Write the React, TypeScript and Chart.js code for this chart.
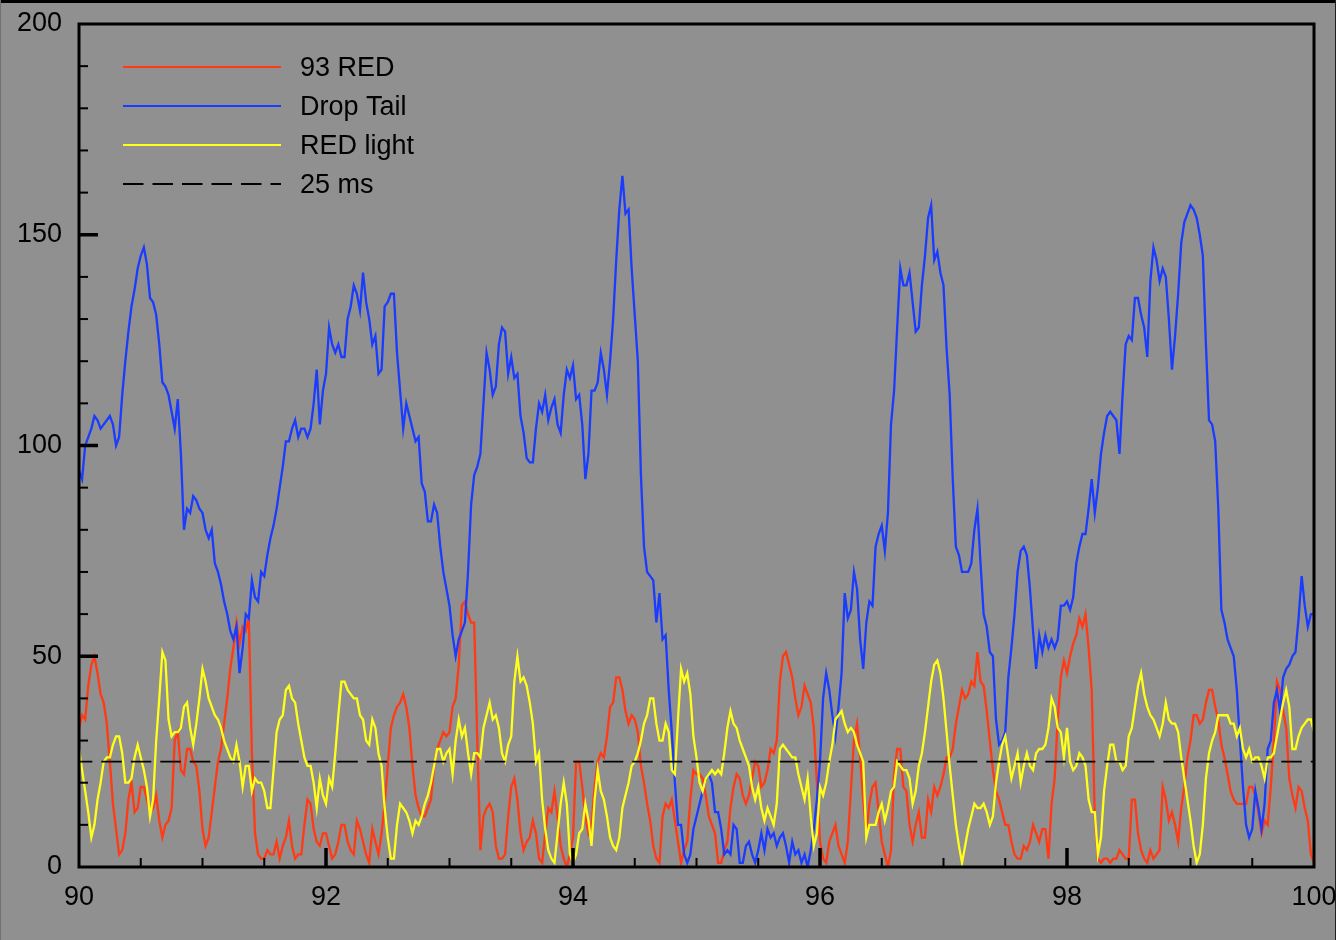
import React, { useEffect, useRef } from "react";
import { Chart, registerables } from "chart.js";

Chart.register(...registerables);

// Queueing delay traces (ms) sampled every 0.025 s from t = 90 s to t = 100 s,
// one row per second of simulated time
const timeStart = 90;
const timeStep = 0.025;

const red93: number[] = [
  33, 36, 35, 43, 48, 50, 46, 41, 39, 34, 25, 15, 9, 3, 4, 8, 16, 20, 13, 14, 19, 19, 16, 13, 14, 17, 11, 7, 10, 11, 14, 30, 32, 23, 22, 28, 28, 25, 24, 18,
  9, 5, 7, 13, 19, 25, 28, 34, 40, 47, 52, 58, 53, 57, 56, 59, 27, 8, 3, 2, 2, 4, 3, 3, 6, 2, 5, 7, 11, 5, 2, 3, 3, 10, 16, 15, 9, 6, 5, 8,
  8, 5, 2, 3, 6, 10, 10, 6, 4, 3, 11, 9, 6, 3, 1, 9, 6, 3, 8, 15, 24, 33, 36, 38, 39, 41, 38, 33, 24, 17, 14, 12, 12, 14, 16, 24, 28, 30, 32, 31,
  32, 38, 40, 48, 62, 63, 60, 58, 58, 30, 4, 12, 14, 15, 13, 5, 2, 2, 3, 12, 19, 21, 16, 8, 4, 6, 7, 11, 8, 2, 1, 8, 14, 13, 18, 12, 5, 2, 0, 3,
  7, 25, 25, 19, 12, 8, 10, 19, 25, 27, 26, 31, 38, 39, 45, 45, 42, 37, 34, 36, 35, 32, 24, 20, 15, 11, 5, 2, 1, 12, 15, 14, 16, 11, 6, 1, 4, 6, 16, 23,
  22, 22, 21, 17, 12, 10, 8, 1, 1, 4, 6, 14, 19, 22, 21, 17, 15, 17, 21, 25, 24, 19, 20, 23, 28, 27, 30, 44, 50, 51, 48, 45, 40, 36, 38, 43, 41, 39, 33, 20,
  6, 2, 1, 6, 8, 10, 5, 3, 1, 6, 18, 30, 34, 26, 16, 8, 15, 19, 20, 13, 6, 3, 0, 4, 22, 28, 28, 19, 18, 10, 6, 10, 13, 7, 7, 16, 13, 19, 17, 19,
  22, 26, 26, 28, 34, 38, 42, 40, 41, 44, 43, 51, 44, 43, 37, 30, 23, 18, 16, 13, 10, 10, 6, 3, 2, 2, 5, 4, 6, 10, 8, 6, 9, 9, 2, 15, 21, 35, 45, 49,
  46, 50, 53, 55, 59, 57, 60, 52, 42, 12, 2, 1, 2, 2, 1, 2, 2, 4, 3, 2, 2, 16, 16, 8, 4, 2, 1, 4, 2, 3, 4, 19, 16, 11, 13, 10, 6, 14, 19, 26,
  30, 36, 36, 34, 35, 39, 42, 42, 38, 35, 29, 26, 22, 18, 16, 15, 15, 15, 15, 19, 19, 17, 13, 8, 11, 10, 19, 30, 44, 42, 37, 33, 21, 17, 14, 19, 18, 14, 11, 3,
  1,
];

const dropTail: number[] = [
  94, 92, 100, 102, 104, 107, 106, 104, 105, 106, 107, 105, 100, 102, 112, 120, 127, 133, 137, 142, 145, 147, 143, 135, 134, 131, 124, 115, 114, 112, 108, 104, 111, 98, 80, 85, 84, 88, 87, 85,
  84, 80, 78, 80, 72, 70, 67, 63, 60, 56, 54, 57, 46, 52, 60, 59, 68, 64, 63, 70, 69, 74, 78, 81, 85, 90, 95, 101, 101, 104, 106, 102, 104, 104, 102, 104, 110, 118, 105, 113,
  117, 128, 124, 122, 124, 121, 121, 130, 133, 138, 136, 132, 141, 134, 130, 124, 126, 117, 118, 133, 134, 136, 136, 122, 113, 104, 110, 107, 104, 101, 102, 91, 89, 82, 82, 86, 84, 76, 70, 66,
  62, 55, 50, 54, 56, 58, 70, 86, 93, 95, 98, 110, 122, 118, 112, 114, 124, 128, 127, 117, 121, 116, 117, 107, 103, 97, 96, 96, 104, 110, 108, 112, 106, 109, 111, 105, 103, 112, 118, 116,
  119, 111, 112, 105, 92, 98, 113, 113, 115, 122, 118, 112, 120, 130, 144, 156, 164, 155, 156, 142, 131, 120, 93, 76, 70, 69, 68, 58, 65, 54, 55, 42, 32, 20, 10, 10, 3, 1, 3, 9,
  12, 15, 18, 21, 22, 20, 13, 13, 9, 3, 4, 3, 10, 9, 1, 1, 5, 6, 3, 1, 4, 8, 4, 9, 7, 8, 5, 7, 8, 5, 1, 6, 3, 4, 1, 3, 0, 4, 9, 16,
  25, 40, 46, 42, 36, 31, 38, 46, 65, 59, 61, 70, 66, 54, 47, 58, 63, 62, 76, 79, 81, 75, 84, 105, 113, 128, 142, 138, 138, 141, 134, 127, 128, 138, 145, 154, 157, 144, 146, 141,
  138, 123, 112, 92, 76, 74, 70, 70, 70, 72, 80, 85, 72, 60, 57, 51, 50, 35, 29, 30, 32, 45, 52, 60, 70, 75, 76, 74, 66, 56, 47, 55, 51, 55, 52, 54, 52, 54, 62, 62,
  63, 61, 64, 72, 76, 79, 79, 85, 92, 84, 90, 98, 103, 107, 108, 107, 106, 98, 112, 124, 126, 125, 135, 135, 131, 128, 121, 139, 147, 144, 139, 142, 140, 130, 118, 126, 136, 148, 153, 155,
  157, 156, 154, 150, 145, 124, 106, 105, 101, 85, 61, 58, 54, 52, 50, 42, 30, 19, 10, 7, 9, 18, 14, 9, 15, 28, 30, 39, 42, 37, 45, 47, 48, 50, 51, 59, 69, 62, 57, 60,
  60,
];

const redLight: number[] = [
  28, 23, 18, 13, 7, 10, 16, 20, 25, 26, 26, 29, 31, 31, 27, 20, 20, 21, 26, 29, 26, 23, 19, 12, 16, 30, 40, 51, 49, 35, 31, 32, 32, 33, 38, 39, 33, 29, 34, 40,
  47, 44, 40, 38, 36, 35, 33, 30, 28, 26, 25, 29, 25, 19, 24, 24, 18, 21, 20, 20, 18, 14, 14, 23, 32, 35, 36, 42, 43, 40, 39, 34, 30, 26, 24, 24, 20, 14, 21, 17,
  15, 21, 19, 27, 36, 44, 44, 42, 41, 40, 40, 36, 35, 30, 29, 35, 33, 27, 24, 14, 7, 2, 2, 10, 15, 14, 13, 11, 8, 11, 10, 12, 15, 17, 20, 24, 28, 28, 25, 27,
  28, 22, 30, 35, 31, 33, 27, 22, 27, 27, 26, 33, 36, 39, 35, 36, 33, 27, 25, 29, 31, 44, 50, 44, 45, 43, 39, 34, 25, 27, 16, 9, 4, 2, 1, 8, 15, 20, 15, 3,
  1, 3, 8, 9, 15, 11, 5, 16, 23, 18, 16, 12, 7, 5, 4, 7, 14, 17, 20, 24, 25, 27, 30, 34, 36, 40, 40, 34, 30, 30, 34, 32, 23, 22, 35, 47, 44, 46, 41, 31,
  26, 20, 18, 21, 22, 23, 22, 23, 22, 27, 33, 37, 34, 33, 30, 28, 26, 24, 19, 16, 19, 14, 11, 14, 12, 10, 15, 28, 29, 28, 27, 26, 26, 22, 19, 16, 21, 12, 5, 8,
  19, 17, 20, 25, 29, 35, 36, 37, 34, 32, 33, 32, 29, 27, 25, 7, 10, 10, 10, 13, 15, 11, 14, 18, 19, 25, 24, 23, 23, 21, 15, 18, 24, 27, 32, 38, 44, 48, 49, 46,
  40, 32, 24, 17, 10, 5, 1, 5, 9, 12, 15, 14, 14, 15, 13, 10, 12, 20, 25, 29, 31, 26, 21, 24, 27, 20, 24, 27, 24, 23, 27, 28, 28, 29, 33, 40, 38, 33, 32, 26,
  33, 25, 23, 24, 27, 26, 24, 16, 13, 13, 3, 7, 18, 24, 29, 29, 25, 25, 23, 24, 31, 33, 38, 43, 46, 41, 38, 36, 35, 33, 31, 34, 39, 35, 34, 34, 32, 26, 21, 16,
  11, 5, 1, 3, 10, 21, 27, 30, 32, 36, 36, 36, 36, 34, 34, 31, 33, 28, 26, 28, 25, 26, 26, 24, 21, 26, 26, 27, 31, 35, 39, 42, 38, 28, 28, 31, 33, 34, 35, 35,
  32,
];

const targetDelay = 25;
const seriesLabels = ["93 RED", "Drop Tail", "RED light", "25 ms"];
const xRange = [90, 100];
const yRange = [0, 200];
const xLabelStep = 2;
const yLabelStep = 50;
const xMinorStep = 0.5;
const yMinorStep = 10;

const FONT = "'Liberation Sans', Arial, Helvetica, sans-serif";
const BG = "#909090";
const COLORS = ["#ff3a14", "#1a3cff", "#ffff1a", "#000000"];
const DASH = [20.5, 9];

const toPoints = (values: number[]) =>
  values.map((v, i) => ({ x: +(timeStart + i * timeStep).toFixed(3), y: v }));

// page background plus the dark edges around the figure
const backdrop = {
  id: "backdrop",
  beforeDraw(chart: any) {
    const { ctx, width, height } = chart;
    ctx.save();
    ctx.fillStyle = BG;
    ctx.fillRect(0, 0, width, height);
    ctx.fillStyle = "#000";
    ctx.fillRect(0, 0, width, 3);
    ctx.fillStyle = "#707070";
    ctx.fillRect(0, 0, 1, height);
    ctx.fillStyle = "#202020";
    ctx.fillRect(width - 1, 0, 1, height);
    ctx.restore();
  },
};

// box around the plot with inward major/minor ticks
const axisBox = {
  id: "axisBox",
  afterDatasetsDraw(chart: any) {
    const { ctx, chartArea: a, scales } = chart;
    const xs = scales.x;
    const ys = scales.y;
    ctx.save();
    ctx.strokeStyle = "#000";
    ctx.lineCap = "butt";
    for (let k = 1; k < (yRange[1] - yRange[0]) / yMinorStep; k++) {
      const v = yRange[0] + k * yMinorStep;
      const major = v % yLabelStep === 0;
      const py = ys.getPixelForValue(v);
      ctx.lineWidth = major ? 3.5 : 2;
      ctx.beginPath();
      ctx.moveTo(a.left, py);
      ctx.lineTo(a.left + (major ? 19 : 9), py);
      ctx.stroke();
    }
    for (let k = 1; k < (xRange[1] - xRange[0]) / xMinorStep; k++) {
      const v = xRange[0] + k * xMinorStep;
      const major = Math.abs((v - xRange[0]) % xLabelStep) < 1e-9;
      const px = xs.getPixelForValue(v);
      ctx.lineWidth = major ? 3.5 : 2;
      ctx.beginPath();
      ctx.moveTo(px, a.bottom);
      ctx.lineTo(px, a.bottom - (major ? 19 : 9));
      ctx.stroke();
    }
    ctx.lineWidth = 3;
    ctx.strokeRect(a.left, a.top, a.right - a.left, a.bottom - a.top);
    ctx.restore();
  },
};

// legend drawn inside the plot's upper left corner
const insetLegend = {
  id: "insetLegend",
  afterDraw(chart: any) {
    const { ctx, chartArea: a } = chart;
    const x0 = a.left + 44;
    const x1 = a.left + 202;
    const tx = a.left + 221;
    ctx.save();
    ctx.font = `27px ${FONT}`;
    ctx.textBaseline = "middle";
    ctx.textAlign = "left";
    chart.data.datasets.forEach((ds: any, i: number) => {
      const y = a.top + 43 + i * 39;
      ctx.strokeStyle = ds.borderColor;
      ctx.lineWidth = 2;
      ctx.setLineDash(ds.borderDash || []);
      ctx.lineDashOffset = 0;
      ctx.beginPath();
      ctx.moveTo(x0, y);
      ctx.lineTo(x1, y);
      ctx.stroke();
      ctx.setLineDash([]);
      ctx.fillStyle = "#000";
      ctx.fillText(ds.label, tx, y + 2);
    });
    ctx.restore();
  },
};

export default function App() {
  const canvasRef = useRef<HTMLCanvasElement | null>(null);

  useEffect(() => {
    if (!canvasRef.current) return;
    const line = (label: string, data: any[], color: string, order: number, extra: any = {}) => ({
      label,
      data,
      borderColor: color,
      backgroundColor: color,
      borderWidth: 2.3,
      pointRadius: 0,
      tension: 0,
      fill: false,
      order,
      ...extra,
    });
    const chart = new Chart(canvasRef.current, {
      type: "line",
      data: {
        datasets: [
          line(seriesLabels[0], toPoints(red93), COLORS[0], 3),
          line(seriesLabels[1], toPoints(dropTail), COLORS[1], 2),
          line(seriesLabels[2], toPoints(redLight), COLORS[2], 1),
          line(
            seriesLabels[3],
            [
              { x: xRange[0], y: targetDelay },
              { x: xRange[1], y: targetDelay },
            ],
            COLORS[3],
            0,
            { borderDash: DASH, borderDashOffset: 7.2, borderWidth: 1.8 }
          ),
        ],
      },
      options: {
        animation: false,
        responsive: true,
        maintainAspectRatio: false,
        layout: { padding: { top: 24, right: 22, bottom: 0, left: 0 } },
        plugins: {
          legend: { display: false },
          tooltip: { enabled: false },
        },
        scales: {
          x: {
            type: "linear",
            min: xRange[0],
            max: xRange[1],
            grid: { display: false, drawTicks: false },
            border: { display: false },
            ticks: {
              stepSize: xLabelStep,
              padding: 14,
              color: "#000",
              maxRotation: 0,
              font: { family: FONT, size: 27 },
            },
            afterFit(s: any) {
              s.height = 73;
              s.paddingLeft = 0;
              s.paddingRight = 0;
            },
          },
          y: {
            type: "linear",
            min: yRange[0],
            max: yRange[1],
            grid: { display: false, drawTicks: false },
            border: { display: false },
            ticks: {
              stepSize: yLabelStep,
              padding: 17,
              color: "#000",
              font: { family: FONT, size: 27 },
            },
            afterFit(s: any) {
              s.width = 79;
              s.paddingTop = 0;
              s.paddingBottom = 0;
            },
          },
        },
      },
      plugins: [backdrop, axisBox, insetLegend],
    });
    return () => chart.destroy();
  }, []);

  return (
    <div style={{ position: "fixed", left: 0, top: 0, width: 1336, height: 940, background: BG }}>
      <canvas ref={canvasRef} />
    </div>
  );
}
